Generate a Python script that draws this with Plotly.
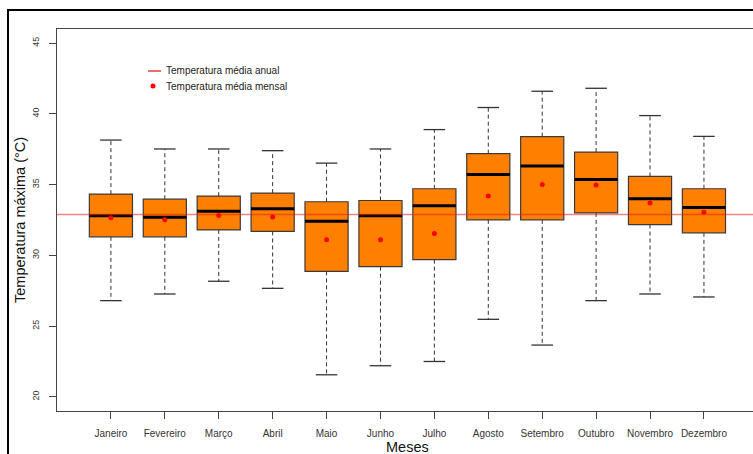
import plotly.graph_objects as go

# Monthly maximum temperature summary (°C)
months = ["Janeiro", "Fevereiro", "Março", "Abril", "Maio", "Junho",
          "Julho", "Agosto", "Setembro", "Outubro", "Novembro", "Dezembro"]
whisker_low = [26.8, 27.27, 28.17, 27.67, 21.56, 22.2, 22.5, 25.48, 23.66, 26.8, 27.27, 27.06]
q1 = [31.31, 31.31, 31.8, 31.69, 28.87, 29.2, 29.7, 32.51, 32.51, 33.0, 32.18, 31.59]
median = [32.8, 32.7, 33.12, 33.29, 32.42, 32.8, 33.5, 35.72, 36.31, 35.37, 34.0, 33.39]
q3 = [34.33, 33.97, 34.19, 34.4, 33.79, 33.88, 34.71, 37.19, 38.39, 37.3, 35.58, 34.71]
whisker_high = [38.15, 37.52, 37.52, 37.4, 36.52, 37.52, 38.89, 40.45, 41.6, 41.81, 39.88, 38.41]
monthly_mean = [32.66, 32.51, 32.82, 32.72, 31.1, 31.1, 31.54, 34.19, 35.01, 34.97, 33.71, 33.05]
annual_mean = 32.89
y_ticks = [20, 25, 30, 35, 40, 45]

FONT = "Liberation Sans, Arial, sans-serif"
BOX_W = 0.8
CAP_W = 0.4
X_RANGE = [0.0, 12.91]
Y_RANGE = [19.0, 46.0]

pos = list(range(1, len(months) + 1))


def segments(xs0, xs1, ys0, ys1):
    sx, sy = [], []
    for a, b, c, d in zip(xs0, xs1, ys0, ys1):
        sx += [a, b, None]
        sy += [c, d, None]
    return sx, sy


fig = go.Figure()

# boxes (interquartile range)
fig.add_trace(go.Bar(
    x=pos, base=q1, y=[b - a for a, b in zip(q1, q3)], width=BOX_W,
    marker=dict(color="#FF8000", line=dict(color="#403838", width=1.2)),
    showlegend=False, hoverinfo="skip",
))

# dashed whiskers
wx, wy = segments(pos + pos, pos + pos, q3 + q1, whisker_high + whisker_low)
fig.add_trace(go.Scatter(x=wx, y=wy, mode="lines",
                         line=dict(color="#333333", width=1, dash="4px,3px"),
                         showlegend=False, hoverinfo="skip"))

# whisker caps
left = [p - CAP_W / 2 for p in pos]
right = [p + CAP_W / 2 for p in pos]
cx, cy = segments(left + left, right + right, whisker_high + whisker_low, whisker_high + whisker_low)
fig.add_trace(go.Scatter(x=cx, y=cy, mode="lines",
                         line=dict(color="#333333", width=1.3),
                         showlegend=False, hoverinfo="skip"))

# medians
bl = [p - BOX_W / 2 for p in pos]
br = [p + BOX_W / 2 for p in pos]
mx, my = segments(bl, br, median, median)
fig.add_trace(go.Scatter(x=mx, y=my, mode="lines",
                         line=dict(color="#000000", width=3),
                         showlegend=False, hoverinfo="skip"))

# annual mean reference line
fig.add_trace(go.Scatter(x=X_RANGE, y=[annual_mean, annual_mean], mode="lines",
                         line=dict(color="rgba(228,30,30,0.55)", width=1.6),
                         showlegend=False, hoverinfo="skip"))

# monthly means
fig.add_trace(go.Scatter(x=pos, y=monthly_mean, mode="markers",
                         marker=dict(color="#FF0000", size=5),
                         showlegend=False, hoverinfo="skip"))

# plot width/height in px for paper-coordinate placement of decorations
W, H = 753, 454
ML, MR, MT, MB = 57, 0, 29, 43
PW, PH = W - ML - MR, H - MT - MB


def px(xp):
    return (xp - ML) / PW


def py(yp):
    return (H - MB - yp) / PH


shapes = [
    # outer figure frame
    dict(type="rect", xref="paper", yref="paper", x0=px(8), x1=1.2, y0=-0.5, y1=py(10),
         line=dict(color="#000000", width=2), fillcolor="rgba(0,0,0,0)"),
    # legend keys
    dict(type="line", xref="paper", yref="paper", x0=px(148), x1=px(161), y0=py(71), y1=py(71),
         line=dict(color="#E02020", width=1.3)),
    dict(type="circle", xref="paper", yref="paper", x0=px(150.5), x1=px(155.5),
         y0=py(88.5), y1=py(83.5), fillcolor="#FF0000", line=dict(width=0)),
]

annotations = [
    dict(text="Temperatura média anual", xref="paper", yref="paper", x=px(164), y=py(71),
         xanchor="left", yanchor="middle", showarrow=False,
         font=dict(family=FONT, size=10, color="#222222")),
    dict(text="Temperatura média mensal", xref="paper", yref="paper", x=px(164), y=py(86),
         xanchor="left", yanchor="middle", showarrow=False,
         font=dict(family=FONT, size=10, color="#222222")),
    dict(text="Temperatura máxima (°C)", xref="paper", yref="paper", x=px(20), y=0.5,
         textangle=-90, xanchor="center", yanchor="middle", showarrow=False,
         font=dict(family=FONT, size=14.5, color="#111111")),
    dict(text="Meses", xref="paper", yref="paper", x=px(407), y=py(446.5),
         xanchor="center", yanchor="middle", showarrow=False,
         font=dict(family=FONT, size=14.5, color="#111111")),
]

fig.update_layout(
    width=W, height=H,
    margin=dict(l=ML, r=MR, t=MT, b=MB, pad=0),
    paper_bgcolor="white", plot_bgcolor="white",
    shapes=shapes, annotations=annotations,
    showlegend=False,
    xaxis=dict(range=X_RANGE, tickvals=pos, ticktext=months, ticks="outside",
               ticklen=7, tickcolor="#444444", showgrid=False, zeroline=False,
               showline=True, linecolor="#444444", linewidth=1, mirror=True,
               tickfont=dict(family=FONT, size=10, color="#333333"),
               ticklabelstandoff=6),
    yaxis=dict(range=Y_RANGE, tickvals=y_ticks, ticks="outside", ticklen=7,
               tickcolor="#444444", showgrid=False, zeroline=False,
               showline=True, linecolor="#444444", linewidth=1,
               tickangle=-90, tickfont=dict(family=FONT, size=9, color="#333333"),
               ticklabelstandoff=6),
)

fig.write_html("out.html")
